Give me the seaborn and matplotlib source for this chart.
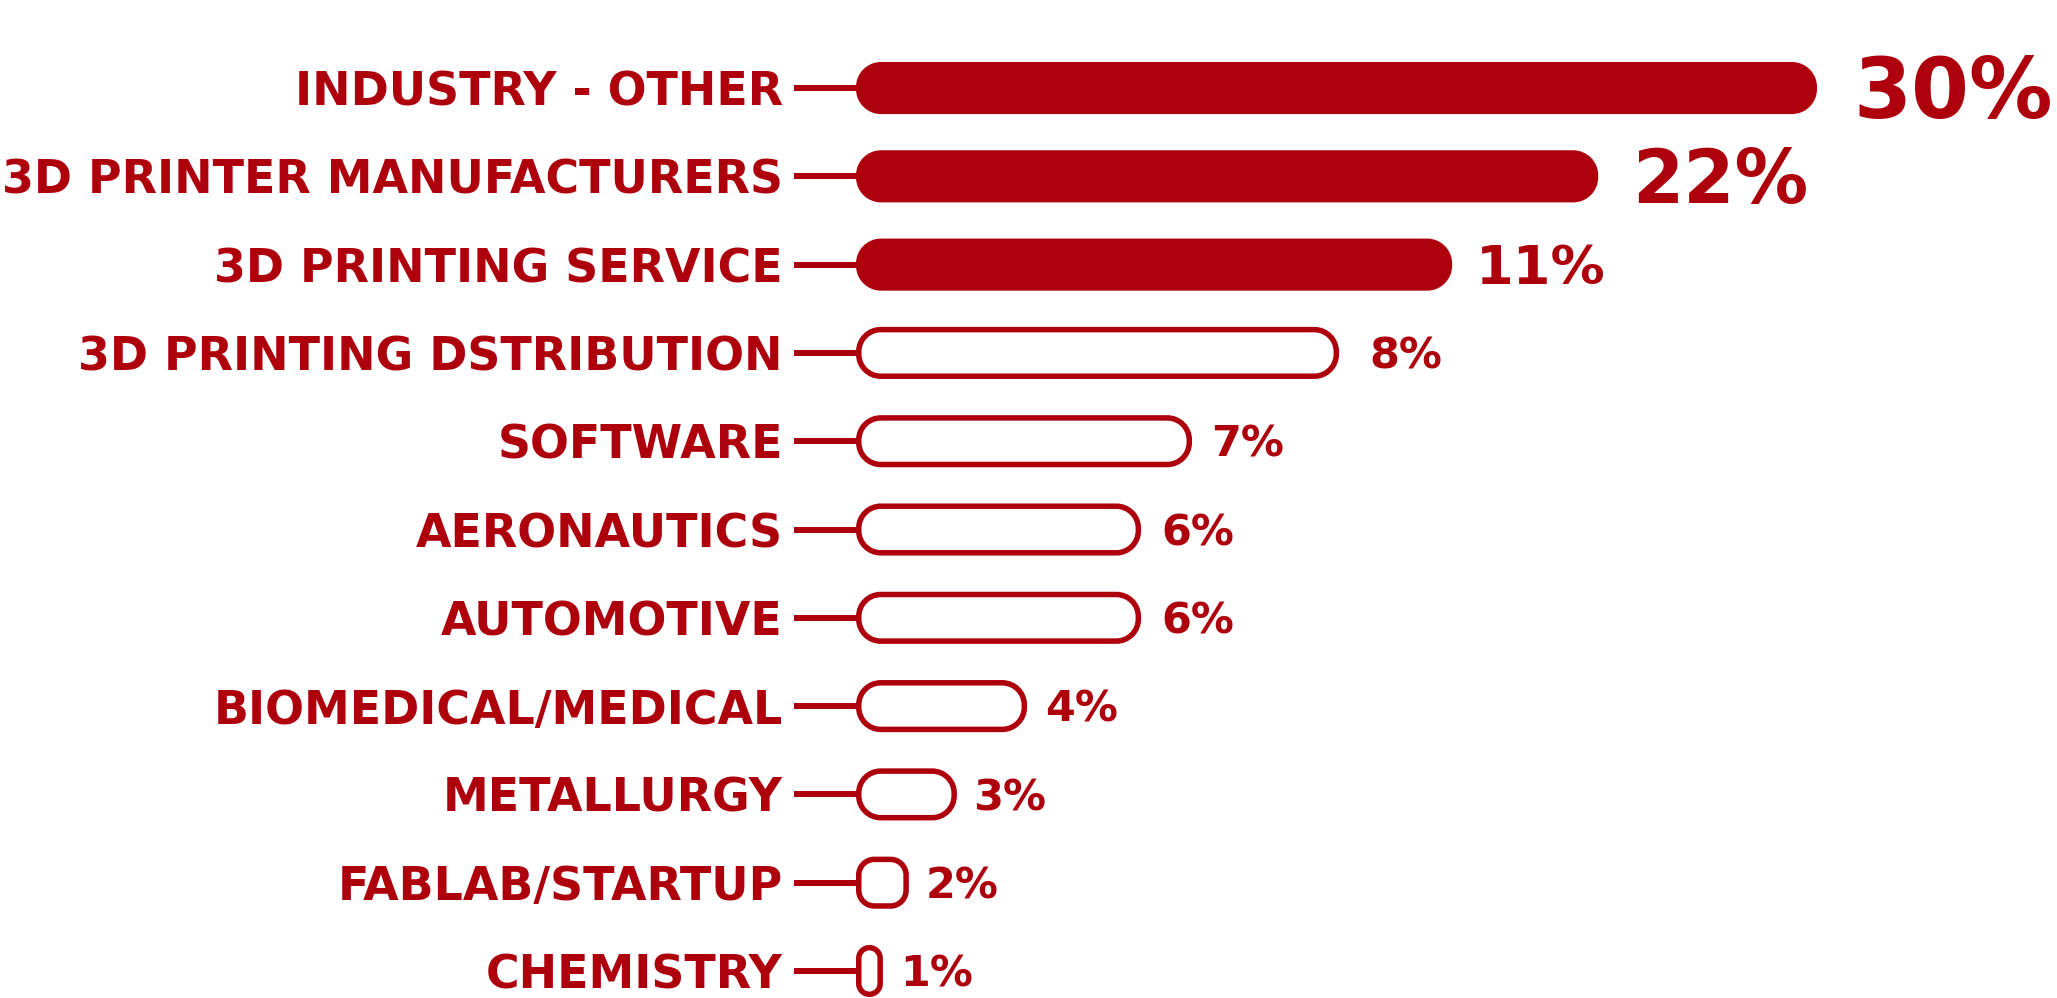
import matplotlib
matplotlib.use("Agg")
import matplotlib.pyplot as plt
import seaborn as sns
import pandas as pd
from matplotlib.patches import FancyBboxPatch
from matplotlib.path import Path

# ---------------- data ----------------
categories = ["INDUSTRY - OTHER", "3D PRINTER MANUFACTURERS", "3D PRINTING SERVICE",
              "3D PRINTING DSTRIBUTION", "SOFTWARE", "AERONAUTICS", "AUTOMOTIVE",
              "BIOMEDICAL/MEDICAL", "METALLURGY", "FABLAB/STARTUP", "CHEMISTRY"]
shares = [30, 22, 11, 8, 7, 6, 6, 4, 3, 2, 1]
value_labels = [f"{s}%" for s in shares]
# drawn bar lengths as they appear in the infographic (not proportional to the shares)
bar_length = [30.0, 23.17, 18.61, 15.08, 10.49, 8.90, 8.90, 5.34, 3.15, 1.65, 0.84]
n_filled = 3  # top three bars are filled

# ---------------- style ----------------
RED = "#AE000C"
W, H, DPI = 2057, 998, 100
sns.set_theme(style="white")
plt.rcParams["font.family"] = ["DejaVu Sans"]

label_style = [  # (font size pt, weight, gap px)
    (60, "heavy", 36), (53, "heavy", 34), (39, "heavy", 24), (31, "bold", 30),
    (31, "bold", 19), (31, "bold", 20), (31, "bold", 20), (31, "bold", 18),
    (31, "bold", 16), (31, "bold", 17), (31, "bold", 17),
]


def rounded_box(radius):
    """Rounded rectangle with true circular-arc corners (as a box style callable)."""
    def style(x0, y0, width, height, mutation_size):
        r = min(radius, width / 2, height / 2)
        k = 0.5523 * r
        x1, y1 = x0 + width, y0 + height
        verts = [
            (x0 + r, y0), (x1 - r, y0),
            (x1 - r + k, y0), (x1, y0 + r - k), (x1, y0 + r),
            (x1, y1 - r),
            (x1, y1 - r + k), (x1 - r + k, y1), (x1 - r, y1),
            (x0 + r, y1),
            (x0 + r - k, y1), (x0, y1 - r + k), (x0, y1 - r),
            (x0, y0 + r),
            (x0, y0 + r - k), (x0 + r - k, y0), (x0 + r, y0),
            (x0 + r, y0),
        ]
        codes = ([Path.MOVETO, Path.LINETO] + [Path.CURVE4] * 3 + [Path.LINETO]
                 + [Path.CURVE4] * 3 + [Path.LINETO] + [Path.CURVE4] * 3
                 + [Path.LINETO] + [Path.CURVE4] * 3 + [Path.CLOSEPOLY])
        return Path(verts, codes)
    return style


fig = plt.figure(figsize=(W / DPI, H / DPI), dpi=DPI)
fig.patch.set_facecolor("white")
ax_left_px = 856
ax = fig.add_axes([ax_left_px / W, 0, (W - ax_left_px) / W, 1])

df = pd.DataFrame({"category": categories, "length": bar_length})
sns.barplot(data=df, x="length", y="category", orient="h", width=0.59,
            color=RED, ax=ax)

xmax = (W - ax_left_px) * 30.0 / 961.0
ax.set_xlim(0, xmax)
ax.set_ylim(10.306, -0.997)

# data units per pixel
xu = xmax / (W - ax_left_px)
yu = (10.306 + 0.997) / H
aspect = yu / xu

patches = list(ax.patches)
for i, p in enumerate(patches):
    x, y = p.get_x(), p.get_y()
    w, h = p.get_width(), p.get_height()
    p.remove()
    filled = i < n_filled
    lw_px = 2 if filled else 5.5
    inset = lw_px / 2
    xx = x + inset * xu
    ww = w - 2 * inset * xu
    yy = y + inset * yu
    hh = h - 2 * inset * yu
    ww_px = ww / xu
    if filled:
        r_px = 24
    elif ww_px > 40:
        r_px = min(22, 0.33 * ww_px)
    else:
        r_px = ww_px / 2
    box = FancyBboxPatch((xx, yy), ww, hh,
                         boxstyle=rounded_box(r_px * xu),
                         mutation_aspect=aspect,
                         facecolor=RED if filled else "white",
                         edgecolor=RED, linewidth=lw_px * 0.72,
                         clip_on=False, zorder=3)
    ax.add_patch(box)

    size, weight, gap = label_style[i]
    cap_px = size / 0.72 * 0.729
    ax.annotate(value_labels[i], xy=(x + w, y + h / 2),
                xytext=(gap * 0.72, -cap_px / 2 * 0.72), textcoords="offset points",
                ha="left", va="baseline", fontsize=size, fontweight=weight,
                color=RED, annotation_clip=False, zorder=4)

# axes styling: tick marks act as the connector lines
for s in ax.spines.values():
    s.set_visible(False)
ax.set_xlabel("")
ax.set_ylabel("")
ax.set_xticks([])
ax.tick_params(axis="y", which="major", direction="out", length=62 * 0.72,
               width=6 * 0.72, color=RED, pad=8, labelsize=33, labelcolor=RED, left=True)
for lbl in ax.get_yticklabels():
    lbl.set_fontweight("bold")
ax.set_facecolor("white")

fig.savefig("out.png", dpi=DPI, facecolor="white")
